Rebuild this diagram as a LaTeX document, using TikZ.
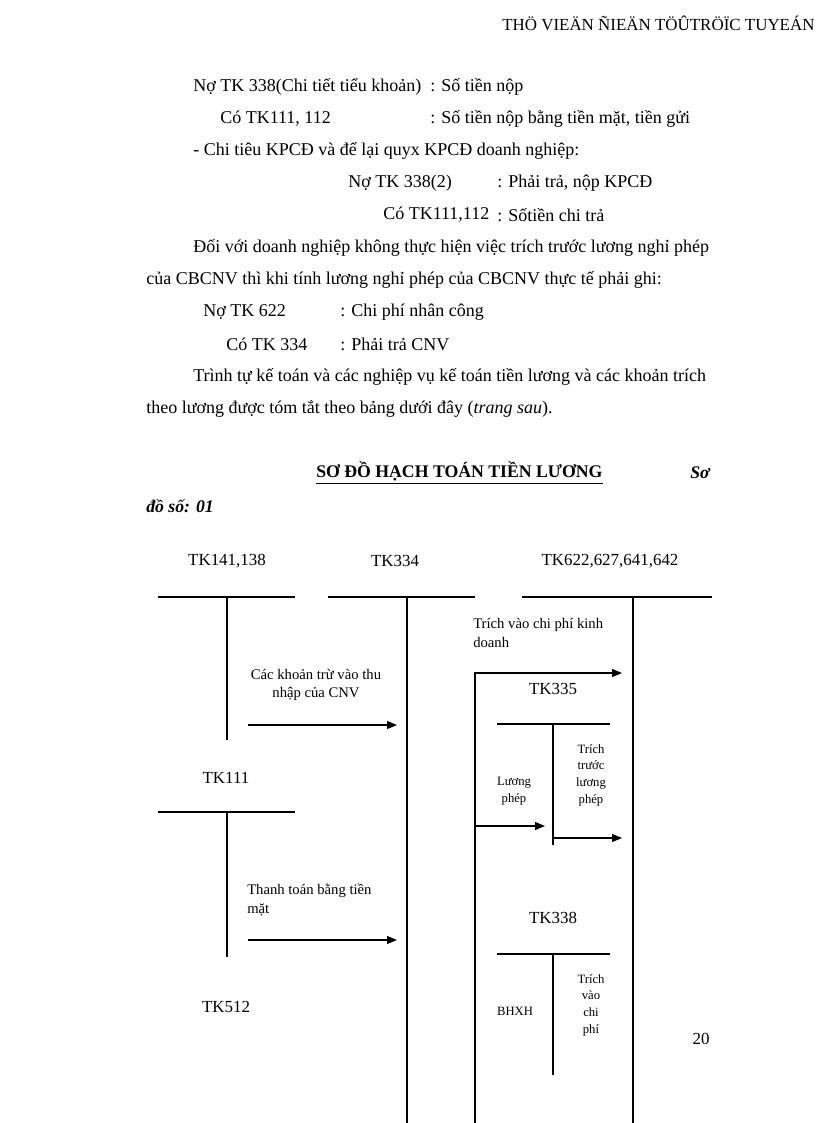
\documentclass[tikz,border=0pt]{standalone}
\usepackage{fontspec}
\setmainfont{Liberation Serif}
\usetikzlibrary{arrows.meta}
\begin{document}
\begin{tikzpicture}[x=0.75pt,y=-0.75pt,
  body/.style={font=\fontsize{13.5}{15}\selectfont,inner sep=0pt,anchor=west},
  acct/.style={font=\fontsize{12.7}{15}\selectfont,inner sep=0pt},
  lbl/.style={font=\fontsize{11}{14}\selectfont,inner sep=0pt,align=left},
  small/.style={font=\fontsize{9.5}{12.5}\selectfont,inner sep=0pt,align=center},
  tbar/.style={line width=1.1pt},
  tstem/.style={line width=0.8pt},
  flow/.style={line width=0.8pt,-{Triangle[length=7.5pt,width=6pt]}}]
\useasboundingbox (0,0) rectangle (816,1123);
% header
\node[body,font=\fontsize{12.7}{15}\selectfont] (hdr) at (502,23) {THÖ VIEÄN ÑIEÄN TÖÛTRÖÏC TUYEÁN};
% text
\node[body] (t1) at (193,87) {Nợ TK 338(Chi tiết tiểu khoản)};
\node[body] (t1b) at (430,87) {: Số tiền nộp};
\node[body] (t2) at (220,119) {Có TK111, 112};
\node[body] (t2b) at (430,119) {: Số tiền nộp bằng tiền mặt, tiền gửi};
\node[body] (t3) at (193,151) {- Chi tiêu KPCĐ và để lại quyx KPCĐ doanh nghiệp:};
\node[body] (t4) at (348,183) {Nợ TK 338(2)};
\node[body] (t4b) at (497,183) {: Phải trả, nộp KPCĐ};
\node[body] (t5) at (383,215) {Có TK111,112};
\node[body] (t5b) at (497,215) {: Sốtiền chi trả};
\node[body] (t6) at (193,248) {Đối với doanh nghiệp không thực hiện việc trích trước lương nghỉ phép};
\node[body] (t7) at (146,280) {của CBCNV thì khi tính lương nghỉ phép của CBCNV thực tế phải ghi:};
\node[body] (t8) at (203,312) {Nợ TK 622};
\node[body] (t8b) at (340,312) {: Chi phí nhân công};
\node[body] (t9) at (226,344) {Có TK 334};
\node[body] (t9b) at (340,344) {: Phải trả CNV};
\node[body] (t10) at (193,377) {Trình tự kế toán và các nghiệp vụ kế toán tiền lương và các khoản trích};
\node[body] (t11) at (146,409) {theo lương được tóm tắt theo bảng dưới đây (\textit{trang sau}).};
% title
\node[body,font=\fontsize{13.3}{15}\selectfont\bfseries] (title) at (316,473) {\underline{SƠ ĐỒ HẠCH TOÁN TIỀN LƯƠNG}};
\node[body,font=\fontsize{13.3}{15}\selectfont\bfseries\itshape] (so1) at (690,473) {Sơ};
\node[body,font=\fontsize{13.3}{15}\selectfont\bfseries\itshape] (so2) at (146,506) {đồ số: 01};
% account headings
\node[acct] (a141) at (227,561) {TK141,138};
\node[acct] (a334) at (395,561) {TK334};
\node[acct] (a622) at (610,561) {TK622,627,641,642};
\node[acct] (a111) at (226,778) {TK111};
\node[acct] (a512) at (226,1007) {TK512};
\node[acct] (a335) at (553,689) {TK335};
\node[acct] (a338) at (553,918) {TK338};
\node[acct] (pg) at (701,1039) {20};
% T-account coordinates
\coordinate (b141l) at (158,597); \coordinate (b141r) at (295,597);
\coordinate (s141t) at (227,597); \coordinate (s141b) at (227,740);
\coordinate (b334l) at (328,597); \coordinate (b334r) at (475,597);
\coordinate (s334t) at (407,597); \coordinate (s334b) at (407,1123);
\coordinate (b622l) at (522,597); \coordinate (b622r) at (712,597);
\coordinate (s622t) at (633,597); \coordinate (s622b) at (633,1123);
\coordinate (b111l) at (158,812); \coordinate (b111r) at (295,812);
\coordinate (s111t) at (227,812); \coordinate (s111b) at (227,957);
\coordinate (b335l) at (497,724); \coordinate (b335r) at (610,724);
\coordinate (s335t) at (553,724); \coordinate (s335b) at (553,845);
\coordinate (b338l) at (497,954); \coordinate (b338r) at (610,954);
\coordinate (s338t) at (553,954); \coordinate (s338b) at (553,1075);
\draw[tbar] (b141l) -- (b141r); \draw[tstem] (s141t) -- (s141b);
\draw[tbar] (b334l) -- (b334r); \draw[tstem] (s334t) -- (s334b);
\draw[tbar] (b622l) -- (b622r); \draw[tstem] (s622t) -- (s622b);
\draw[tbar] (b111l) -- (b111r); \draw[tstem] (s111t) -- (s111b);
\draw[line width=0.8pt] (b335l) -- (b335r); \draw[tstem] (s335t) -- (s335b);
\draw[line width=1.4pt] (b338l) -- (b338r); \draw[tstem] (s338t) -- (s338b);
% flows
\node[lbl,align=center] (l1) at (316,685) {Các khoản trừ vào thu\\nhập của CNV};
\coordinate (f1s) at (248,725); \coordinate (f1e) at (397,725);
\draw[flow] (f1s) -- (f1e);
\node[lbl,anchor=west] (l2) at (473,633) {Trích vào chi phí kinh\\doanh};
\coordinate (f2s) at (475,1123); \coordinate (f2e) at (622,673);
\draw[flow] (f2s) |- (f2e);
\node[small] (l3) at (514,791) {Lương\\phép};
\coordinate (f3s) at (475,826); \coordinate (f3e) at (545,826);
\draw[flow] (f3s) -- (f3e);
\node[small] (l4) at (591,775) {Trích\\trước\\lương\\phép};
\coordinate (f4s) at (553,838); \coordinate (f4e) at (622,838);
\draw[flow] (f4s) -- (f4e);
\node[lbl,anchor=west] (l5) at (247,900) {Thanh toán bằng tiền\\mặt};
\coordinate (f5s) at (248,940); \coordinate (f5e) at (397,940);
\draw[flow] (f5s) -- (f5e);
\node[small] (l6) at (515,1011) {BHXH};
\node[small] (l7) at (591,1005) {Trích\\vào\\chi\\phí};
\end{tikzpicture}
\end{document}
